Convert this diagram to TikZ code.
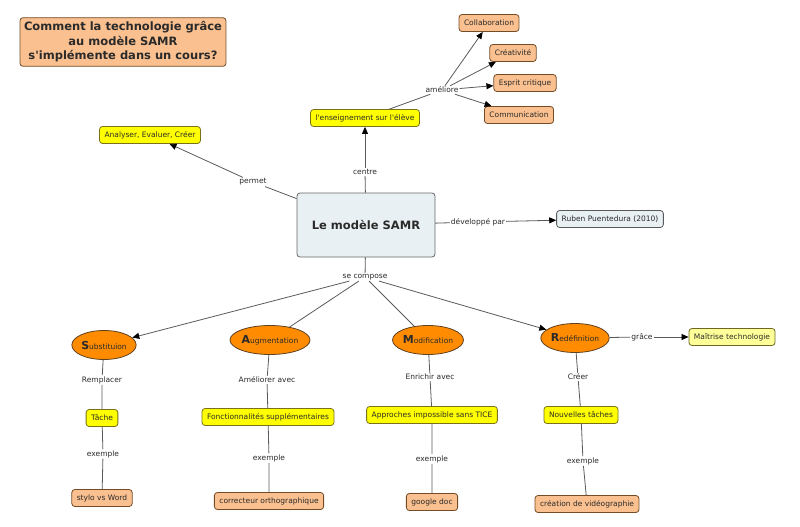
\documentclass[tikz,border=0pt]{standalone}
\usepackage{fontspec}
\setmainfont{DejaVu Sans}
\usetikzlibrary{shapes.geometric,arrows.meta}
\definecolor{peach}{HTML}{FAC08F}
\definecolor{lemon}{HTML}{FFFF00}
\definecolor{pale}{HTML}{FFFF99}
\definecolor{orng}{HTML}{FF8C00}
\definecolor{samrbg}{HTML}{E9F0F4}
\definecolor{wire}{HTML}{5A5A5A}
\definecolor{ink}{HTML}{2A2A2A}
\newcommand{\samrletter}[2]{{\fontsize{11}{12}\selectfont\bfseries #1}{\fontsize{7.5}{8}\selectfont #2}}
\begin{document}
\begin{tikzpicture}[x=1pt,y=-1pt,font=\fontsize{7.5}{9}\selectfont,text=ink]
  \tikzstyle{box}=[rectangle,rounded corners=3pt,draw=black!65,line width=0.8pt,inner xsep=5pt,inner ysep=2pt,minimum height=17pt]
  \tikzstyle{pch}=[box,fill=peach,draw=brown!60!black]
  \tikzstyle{ylw}=[box,fill=lemon,draw=olive!80!black]
  \tikzstyle{elp}=[ellipse,draw=brown!50!black,line width=0.8pt,fill=orng,inner sep=0pt,minimum height=29pt]
  \tikzstyle{lbl}=[inner sep=1pt,fill=white]
  \tikzstyle{ln}=[draw=wire,line width=0.8pt]
  \tikzstyle{arr}=[ln,-{Triangle[length=7pt,width=6pt,color=black]}]
  \useasboundingbox (0,0) rectangle (800,527);

  % titre
  \node[pch,font=\fontsize{11.5}{14.5}\selectfont\bfseries,align=center,inner xsep=4pt,inner ysep=4pt] (title) at (123,42)
    {Comment la technologie grâce\\au modèle SAMR\\s\textquotesingle implémente dans un cours?};

  % centre
  \node[box,fill=samrbg,draw=black!60,minimum width=138pt,minimum height=64pt,font=\fontsize{11.5}{14}\selectfont\bfseries] (samr) at (366,225) {Le modèle SAMR};

  \node[ylw] (ens) at (365,118) {l\textquotesingle enseignement sur l\textquotesingle élève};
  \node[ylw] (anal) at (150,135) {Analyser, Evaluer, Créer};
  \node[box,fill=samrbg] (rub) at (610,219) {Ruben Puentedura (2010)};

  \node[pch] (coll) at (489,23) {Collaboration};
  \node[pch] (crea) at (513,53) {Créativité};
  \node[pch] (esp) at (525,83) {Esprit critique};
  \node[pch] (comm) at (519,115) {Communication};

  \node[lbl] (amel) at (442,90) {améliore};
  \node[lbl] (perm) at (253,182) {permet};
  \node[lbl] (cent) at (365,172) {centre};
  \node[lbl] (dev) at (478,222) {développé par};
  \node[lbl] (comp) at (365,277) {se compose};

  % les quatre niveaux
  \node[elp] (sub) at (104,345) {\samrletter{S}{ubstituion}};
  \node[elp] (aug) at (270,340) {\samrletter{A}{ugmentation}};
  \node[elp] (mod) at (428,340) {\samrletter{M}{odification}};
  \node[elp] (red) at (575,338) {\samrletter{R}{edéfinition}};

  \node[lbl] (grace) at (642,337) {grâce};
  \node[box,fill=pale,draw=olive!70!black] (mait) at (732,337) {Maîtrise technologie};

  \node[lbl] (remp) at (102,380) {Remplacer};
  \node[ylw] (tache) at (102,418) {Tâche};
  \node[lbl] (ex1) at (103,454) {exemple};
  \node[pch] (stylo) at (102,498) {stylo vs Word};

  \node[lbl] (amav) at (267,380) {Améliorer avec};
  \node[ylw] (fonc) at (268,417) {Fonctionnalités supplémentaires};
  \node[lbl] (ex2) at (269,458) {exemple};
  \node[pch] (corr) at (269,501) {correcteur orthographique};

  \node[lbl] (enr) at (430,377) {Enrichir avec};
  \node[ylw] (appr) at (432,415) {Approches impossible sans TICE};
  \node[lbl] (ex3) at (432,459) {exemple};
  \node[pch] (gdoc) at (432,502) {google doc};

  \node[lbl] (cree) at (578,377) {Créer};
  \node[ylw] (nouv) at (581,415) {Nouvelles tâches};
  \node[lbl] (ex4) at (583,461) {exemple};
  \node[pch] (video) at (587,504) {création de vidéographie};

  % liens
  \draw[ln] (ens) -- (amel);
  \foreach \t in {coll,crea,esp,comm}
    \draw[arr] (amel) -- (\t);
  \draw[ln] (samr) -- (perm);
  \draw[arr] (perm) -- (anal);
  \draw[ln] (samr) -- (cent);
  \draw[arr] (cent) -- (ens);
  \draw[ln] (samr) -- (dev);
  \draw[arr] (dev) -- (rub);
  \draw[ln] (samr) -- (comp);
  \draw[arr] (comp) -- (sub);
  \draw[ln] (comp) -- (aug);
  \draw[ln] (comp) -- (mod);
  \draw[arr] (comp) -- (red);
  \draw[ln] (red) -- (grace);
  \draw[arr] (grace) -- (mait);

  \draw[ln] (sub) -- (remp) -- (tache) -- (ex1) -- (stylo);
  \draw[ln] (aug) -- (amav) -- (fonc) -- (ex2) -- (corr);
  \draw[ln] (mod) -- (enr) -- (appr) -- (ex3) -- (gdoc);
  \draw[ln] (red) -- (cree) -- (nouv) -- (ex4) -- (video);
\end{tikzpicture}
\end{document}
